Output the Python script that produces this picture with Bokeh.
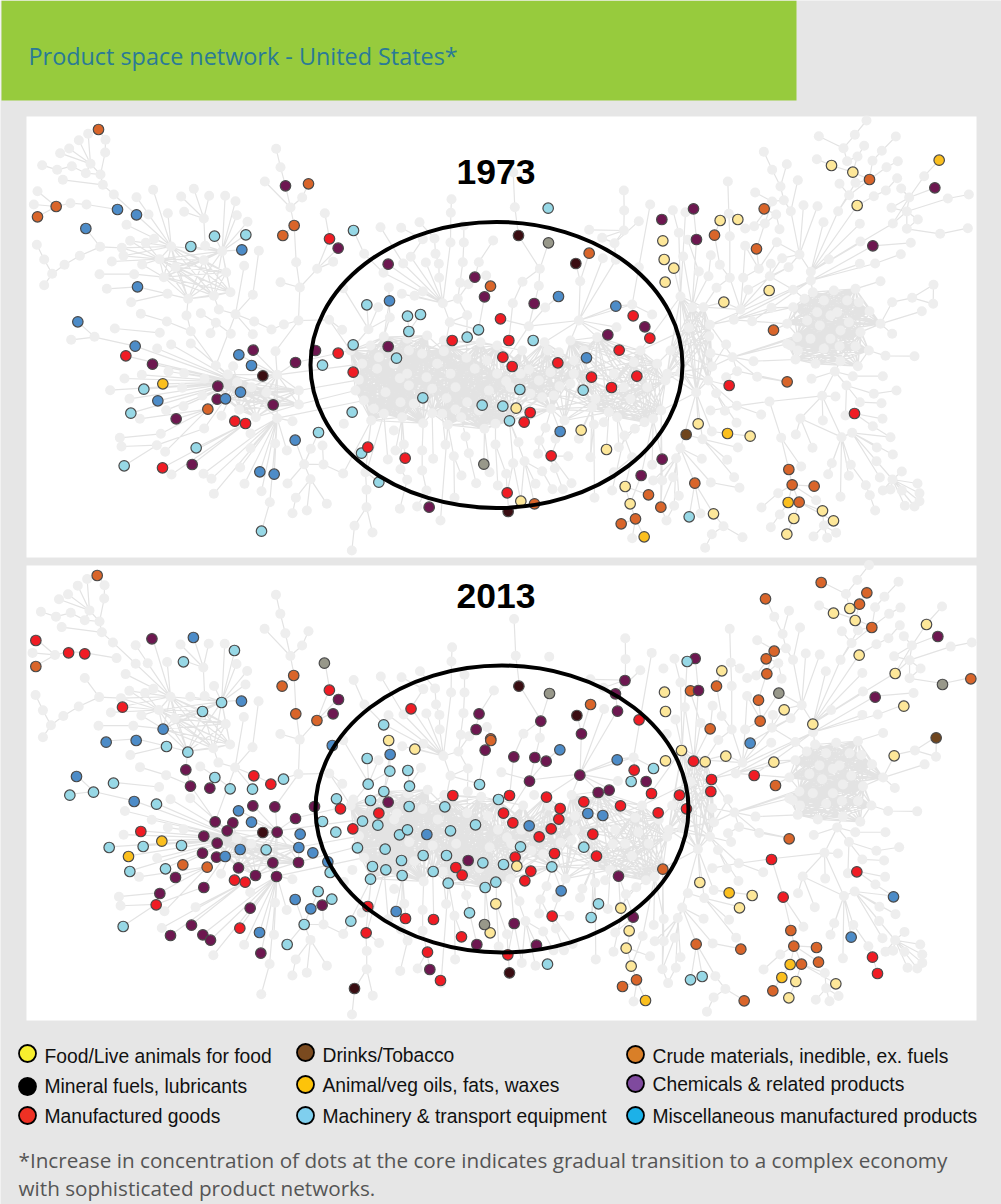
from bokeh.plotting import figure
from bokeh.models import Range1d
from bokeh.embed import file_html
from bokeh.resources import INLINE
from bokeh.core.properties import value
import math


def T(ox, oy, pts):
    return [(ox + x / 3, oy + y / 3) for x, y in pts]


def F(ox, oy, fans):
    return [(T(ox, oy, [h])[0], T(ox, oy, lv)) for h, lv in fans]


TITLE = "Product space network - United States*"
YEARS = ["1973", "2013"]
NOTE = ["*Increase in concentration of dots at the core indicates gradual transition to a complex economy",
        "with sophisticated product networks."]
LEGEND = [("Food/Live animals for food", "#f7ee2e"), ("Mineral fuels, lubricants", "#000000"), ("Manufactured goods", "#ee3124"),
          ("Drinks/Tobacco", "#7a4a1f"), ("Animal/veg oils, fats, waxes", "#fdc30a"), ("Machinery & transport equipment", "#7fcfee"),
          ("Crude materials, inedible, ex. fuels", "#d97f28"), ("Chemicals & related products", "#7f4a9e"), ("Miscellaneous manufactured products", "#1cb1e8")]

# ---- grey product network: hub -> linked products
fans = []
fans += F(20, 110, [
    ((247, 223), [(240, 192), (127, 208), (280, 252)]), ((240, 192), [(210, 160), (254, 126), (196, 188)]), ((254, 126), [(255, 88)]), ((255, 88), [(234, 57)]),
    ((210, 160), [(203, 70), (175, 89), (146, 114), (119, 128), (196, 188)]), ((196, 188), [(154, 167)]), ((154, 167), [(110, 178)]), ((110, 178), [(65, 164)]),
    ((280, 252), [(348, 313), (452, 408)]), ((51, 242), [(107, 288)]), ((40, 282), [(107, 288)]), ((51, 319), [(107, 288)]), ((107, 288), [(150, 278)]), ((150, 278), [(198, 282)]), ((198, 282), [(291, 297)]),
    ((452, 408), [(398, 238), (442, 308), (376, 397), (401, 385), (304, 412), (329, 391), (309, 436), (384, 312), (348, 260), (318, 343)]),
    ((550, 324), [(482, 258), (520, 235), (566, 256), (491, 304), (554, 406)]),
    ((605, 422), [(614, 256), (645, 272), (649, 314), (681, 334), (582, 377), (676, 373), (664, 418), (511, 408), (554, 406)]),
    ((417, 446), [(329, 391), (304, 412), (376, 397), (365, 462), (274, 453), (309, 436)]),
    ((430, 500), [(341, 491), (365, 462)]), ((341, 491), [(237, 491)]), ((441, 550), [(351, 529), (332, 575)]), ((351, 529), [(259, 535)]), ((503, 565), [(441, 550), (498, 615)]),
    ((239, 409), [(196, 354), (304, 412), (178, 436)]), ((178, 436), [(132, 463)]), ((132, 463), [(95, 490)]), ((95, 490), [(71, 447), (71, 524)]), ((71, 447), [(49, 403)]),
    ((645, 611), [(595, 597), (697, 553), (671, 466), (701, 633)]), ((697, 553), [(715, 421)]), ((701, 633), [(753, 657)]), ((753, 657), [(790, 642)]), ((790, 642), [(834, 630)]), ((595, 597), [(580, 556)]),
    ((838, 531), [(827, 455), (780, 515), (890, 475), (834, 630)]), ((827, 455), [(821, 345)]), ((890, 475), [(927, 385), (953, 413), (938, 454)]), ((927, 385), [(913, 308)]),
    ((810, 291), [(795, 226), (845, 261), (733, 213), (821, 345)]), ((780, 170), [(795, 226), (767, 115)]), ((845, 261), [(864, 220)]), ((821, 345), [(787, 375)]),
    ((361, 610), [(439, 633)]), ((439, 633), [(511, 662)]), ((541, 608), [(586, 637)]), ((586, 637), [(631, 670)]), ((511, 662), [(499, 615)]), ((283, 654), [(418, 667)]),
    ((172, 634), [(222, 679)]), ((570, 668), [(586, 637)]), ((697, 671), [(645, 611)]), ((926, 628), [(834, 630), (965, 658)]),
])
fans += F(20, 330, [
    ((650, 155), [(586, 105), (511, 39), (452, 42), (410, 54), (344, 47), (316, 76), (396, 101), (444, 123), (491, 128), (364, 133), (552, 145), (312, 144), (269, 179), (370, 176), (427, 160), (485, 172), (327, 205), (412, 211), (546, 195), (489, 227), (437, 239), (331, 248), (638, 107), (603, 256), (590, 206)]),
    ((770, 133), [(765, 62), (693, 105), (825, 96), (727, 136), (698, 59), (655, 73), (770, 263)]),
    ((222, 20), [(152, 28), (344, 47)]), ((562, 236), [(467, 265), (358, 265), (421, 310), (650, 155)]), ((421, 310), [(298, 322)]), ((409, 344), [(303, 348), (551, 294), (311, 406)]), ((551, 294), [(650, 155)]),
    ((770, 263), [(690, 309), (690, 353), (659, 411), (573, 445), (549, 430), (672, 460), (723, 482), (764, 339), (748, 515), (650, 155), (580, 490)]), ((748, 515), [(723, 602)]),
    ((675, 279), [(453, 432), (426, 412), (515, 402), (527, 352)]), ((434, 364), [(562, 236)]),
    ((851, 401), [(824, 329), (909, 402), (870, 446), (801, 459), (894, 306), (871, 355)]), ((870, 446), [(826, 502), (919, 520), (859, 540)]), ((826, 502), [(816, 548)]), ((909, 402), [(968, 429), (906, 345)]), ((799, 360), [(770, 263)]), ((816, 272), [(770, 263)]),
    ((718, 424), [(770, 263)]), ((761, 431), [(770, 263)]),
])
fans += F(340, 110, [
    ((307, 578), [(143, 461), (129, 487), (184, 550), (222, 556), (247, 543), (211, 439), (188, 459), (256, 456), (296, 502), (352, 565), (328, 635)]),
    ((296, 502), [(295, 460)]), ((295, 460), [(285, 430)]), ((285, 430), [(282, 384)]), ((282, 384), [(237, 335)]), ((247, 386), [(182, 352), (211, 439)]), ((188, 459), [(120, 350)]),
    ((129, 487), [(71, 430)]), ((71, 430), [(39, 360)]), ((333, 266), [(331, 307)]), ((331, 307), [(330, 396)]), ((330, 396), [(307, 578)]),
    ((370, 345), [(370, 396)]), ((370, 396), [(367, 455)]), ((367, 455), [(352, 565)]), ((458, 390), [(415, 455)]), ((415, 455), [(403, 500)]), ((403, 500), [(384, 521)]), ((384, 521), [(352, 565)]), ((359, 517), [(352, 565)]),
    ((437, 495), [(450, 527)]), ((450, 527), [(432, 559)]), ((432, 559), [(414, 658)]), ((352, 565), [(380, 614)]), ((380, 614), [(328, 635)]), ((328, 635), [(414, 658)]),
    ((518, 185), [(523, 290)]), ((523, 290), [(534, 375)]), ((534, 375), [(598, 475)]), ((624, 397), [(598, 475)]), ((598, 475), [(546, 514), (595, 526)]), ((546, 514), [(517, 578)]),
    ((565, 647), [(614, 591), (581, 579), (595, 526), (480, 625)]), ((614, 591), [(654, 558)]),
    ((715, 630), [(719, 512), (787, 443), (826, 587), (875, 582), (826, 448), (565, 647), (828, 650), (802, 673)]), ((719, 512), [(706, 459), (746, 428)]),
    ((850, 240), [(851, 300)]), ((851, 300), [(850, 360)]), ((850, 360), [(785, 382), (822, 398), (746, 358)]), ((785, 382), [(822, 398)]), ((822, 398), [(826, 448), (895, 332)]),
    ((929, 282), [(895, 470)]), ((895, 470), [(875, 582)]), ((875, 582), [(935, 612), (878, 616), (826, 587)]),
    ((84, 656), [(113, 590), (148, 621), (79, 583)]), ((130, 678), [(147, 571), (148, 621)]), ((205, 663), [(201, 617), (240, 612)]), ((8, 533), [(84, 656)]), ((145, 531), [(148, 621)]),
])
fans += F(340, 330, [
    ((92, 270), [(75, 425), (8, 430)]), ((130, 250), [(78, 425), (142, 387)]), ((75, 425), [(78, 478)]), ((78, 478), [(78, 530)]), ((78, 530), [(42, 586), (96, 606)]), ((42, 586), [(34, 660)]),
    ((185, 260), [(165, 360), (190, 342), (180, 416)]), ((180, 416), [(200, 448)]), ((200, 448), [(178, 535)]), ((248, 278), [(245, 360)]), ((245, 360), [(245, 420)]), ((245, 420), [(258, 480)]), ((258, 480), [(266, 530), (230, 528)]),
    ((275, 248), [(278, 385)]), ((305, 250), [(315, 343)]), ((322, 283), [(340, 377), (300, 570)]), ((340, 377), [(363, 435), (342, 502)]), ((362, 260), [(375, 318)]), ((375, 318), [(385, 368)]), ((385, 368), [(407, 458)]),
    ((432, 295), [(430, 401), (447, 425)]), ((465, 280), [(465, 342)]), ((465, 342), [(497, 430), (472, 465)]), ((497, 430), [(500, 487)]), ((500, 487), [(505, 543)]),
    ((507, 271), [(534, 335), (518, 398), (552, 392)]), ((552, 392), [(585, 460), (541, 512), (582, 520), (605, 422)]), ((518, 398), [(500, 487), (541, 512)]), ((605, 422), [(636, 476)]), ((643, 413), [(667, 476), (597, 330)]),
    ((632, 376), [(683, 377), (693, 458)]), ((597, 330), [(593, 370)]), ((672, 270), [(645, 325), (632, 376)]), ((615, 292), [(597, 330)]), ((632, 235), [(615, 292), (672, 270), (659, 303), (569, 246), (551, 275)]),
    ((755, 230), [(760, 282), (722, 299), (715, 325), (750, 380)]), ((760, 282), [(750, 380), (762, 502)]), ((805, 245), [(798, 357), (790, 275)]), ((830, 260), [(875, 380), (835, 350)]), ((875, 380), [(854, 468), (820, 425)]),
    ((912, 275), [(883, 295)]), ((883, 295), [(852, 315), (835, 350)]), ((852, 315), [(815, 480)]), ((938, 265), [(902, 435), (935, 403), (965, 386)]), ((902, 435), [(869, 520)]), ((854, 468), [(869, 520), (924, 493)]), ((869, 520), [(885, 565)]),
    ((885, 565), [(842, 580), (875, 623), (911, 619)]), ((962, 240), [(965, 450), (961, 530)]), ((965, 450), [(961, 530), (938, 450)]), ((961, 530), [(978, 570)]), ((82, 350), [(92, 270)]), ((194, 383), [(185, 260)]), ((115, 455), [(78, 425)]),
])
fans += F(660, 110, [
    ((618, 30), [(583, 73)]), ((583, 73), [(549, 113)]), ((475, 77), [(549, 113)]), ((549, 113), [(560, 152)]), ((706, 78), [(664, 121)]), ((664, 121), [(636, 151)]), ((611, 106), [(591, 138)]), ((591, 138), [(577, 185), (560, 152)]),
    ((469, 146), [(513, 165)]), ((513, 165), [(577, 185)]), ((577, 185), [(627, 207)]), ((712, 152), [(678, 170)]), ((678, 170), [(627, 207)]), ((636, 151), [(627, 207)]), ((627, 207), [(585, 217), (566, 254)]), ((537, 220), [(566, 254)]), ((585, 217), [(533, 302)]), ((566, 254), [(533, 302)]), ((640, 257), [(676, 240)]), ((676, 240), [(710, 203)]), ((640, 257), [(590, 285)]),
    ((836, 149), [(791, 197)]), ((791, 197), [(746, 261)]), ((746, 261), [(722, 234), (823, 232), (693, 292), (739, 303), (697, 339)]), ((925, 252), [(862, 264)]), ((862, 264), [(739, 303)]), ((739, 303), [(772, 327), (739, 355), (693, 292), (697, 339)]), ((922, 353), [(839, 370)]), ((839, 370), [(739, 355)]), ((772, 327), [(739, 355)]),
    ((697, 339), [(451, 484)]), ((451, 484), [(533, 302), (590, 285), (489, 335), (600, 393), (505, 446), (417, 432), (598, 340)]), ((637, 406), [(751, 397), (451, 510)]), ((721, 431), [(644, 459)]), ((644, 459), [(451, 510)]), ((598, 460), [(451, 510)]), ((660, 512), [(585, 535)]),
    ((417, 432), [(391, 302), (429, 284), (471, 287), (349, 395), (365, 443), (384, 470)]), ((391, 302), [(370, 269), (412, 209)]), ((370, 269), [(360, 228), (335, 273)]), ((360, 228), [(335, 178), (379, 161)]), ((335, 178), [(310, 124)]), ((284, 246), [(335, 273)]), ((335, 273), [(281, 347), (313, 339)]), ((347, 312), [(311, 295), (313, 339)]), ((357, 356), [(347, 312)]),
    ((313, 339), [(254, 354), (288, 415)]), ((288, 415), [(295, 475)]), ((254, 406), [(295, 475)]), ((349, 395), [(295, 475)]), ((365, 443), [(328, 497)]), ((331, 460), [(328, 497)]), ((384, 470), [(328, 497), (263, 538)]),
    ((208, 377), [(208, 502)]), ((205, 310), [(208, 377), (202, 213)]), ((179, 330), [(162, 374)]), ((232, 327), [(205, 310)]), ((162, 374), [(178, 463)]), ((178, 463), [(208, 502)]), ((151, 434), [(144, 497)]), ((99, 295), [(108, 387)]), ((108, 387), [(95, 590)]), ((82, 388), [(115, 483)]), ((68, 438), [(95, 590)]),
    ((248, 502), [(240, 597), (295, 475), (254, 406)]), ((208, 502), [(240, 597), (168, 532)]), ((263, 538), [(240, 597)]), ((328, 497), [(240, 597), (398, 538)]), ((398, 538), [(451, 510), (220, 628)]), ((326, 540), [(240, 597)]), ((168, 532), [(129, 590)]), ((190, 575), [(129, 590), (240, 597)]), ((240, 597), [(220, 628), (129, 590)]),
    ((333, 592), [(220, 628), (398, 590), (275, 632)]), ((451, 510), [(220, 628), (275, 632), (148, 643), (457, 545)]), ((695, 575), [(660, 640), (755, 562)]), ((755, 562), [(819, 523), (818, 580)]), ((819, 523), [(818, 580)]), ((784, 602), [(660, 640)]), ((695, 670), [(660, 640)]),
    ((37, 299), [(55, 367)]), ((75, 305), [(60, 558)]), ((55, 367), [(60, 558)]), ((40, 473), [(60, 558)]), ((115, 483), [(95, 590)]), ((144, 497), [(95, 590)]), ((339, 659), [(380, 640)]),
])
fans += F(660, 330, [
    ((625, 60), [(675, 76)]), ((675, 76), [(762, 77)]), ((523, 123), [(577, 137), (558, 165), (485, 196), (540, 92), (453, 145)]), ((577, 137), [(667, 137)]), ((558, 165), [(598, 215), (640, 190), (555, 255)]), ((640, 190), [(708, 180)]), ((598, 215), [(663, 218)]),
    ((485, 196), [(327, 213), (420, 264), (487, 270), (525, 198), (543, 320)]), ((327, 213), [(229, 226), (362, 322)]), ((229, 226), [(302, 252), (150, 240)]), ((420, 264), [(543, 320), (406, 312), (456, 352)]), ((362, 322), [(385, 417), (422, 408)]), ((385, 417), [(395, 463)]),
    ((543, 320), [(514, 398), (503, 431), (540, 499), (571, 403), (565, 436), (575, 307)]), ((575, 307), [(690, 320), (649, 351), (648, 392), (697, 372), (658, 441), (696, 447)]), ((571, 403), [(616, 464)]), ((616, 464), [(628, 494)]), ((628, 494), [(644, 540)]),
    ((696, 447), [(724, 423), (771, 459), (667, 480), (690, 477), (724, 480), (777, 488), (733, 526), (762, 528), (777, 512)]), ((582, 249), [(666, 265), (637, 287), (555, 255)]), ((637, 287), [(690, 320)]),
    ((395, 463), [(353, 488), (416, 515), (383, 516), (461, 467), (467, 509)]), ((353, 488), [(303, 531)]), ((416, 515), [(486, 541), (519, 571)]), ((383, 516), [(358, 552)]), ((358, 552), [(331, 590)]), ((400, 564), [(379, 611), (416, 515)]), ((490, 585), [(459, 618), (500, 622), (527, 607), (486, 541)]),
    ((103, 458), [(120, 549), (159, 550), (86, 559), (60, 353)]), ((60, 353), [(47, 383), (124, 385), (38, 440), (151, 456), (107, 186)]), ((151, 456), [(237, 472)]), ((126, 326), [(221, 440), (200, 388), (77, 312)]), ((189, 587), [(159, 550), (154, 611), (246, 620)]), ((154, 611), [(134, 652)]),
    ((216, 80), [(279, 92), (230, 122), (290, 139), (380, 40), (410, 20), (155, 108), (150, 68)]), ((279, 92), [(405, 87)]), ((230, 122), [(380, 154), (197, 140)]), ((290, 139), [(380, 154)]), ((107, 186), [(113, 280), (154, 303), (126, 326)]), ((167, 188), [(228, 277), (193, 241), (143, 150)]), ((143, 150), [(206, 165), (229, 226)]), ((154, 303), [(201, 309)]), ((201, 309), [(269, 317)]), ((232, 351), [(126, 326)]), ((6, 452), [(47, 383)]), ((18, 568), [(41, 526)]), ((41, 526), [(47, 383)]), ((55, 496), [(47, 383)]),
    ((155, 108), [(197, 42)]),
])

# clusters in which every product links to every other
meshes = [
    T(20, 110, [(452, 408), (417, 446), (465, 470), (430, 500), (550, 449), (605, 422), (617, 486), (580, 556), (503, 565), (630, 545)]),
    T(20, 330, [(622, 132), (693, 170), (738, 186), (656, 238), (706, 260), (650, 155), (660, 185), (592, 167), (615, 205), (770, 133), (758, 223), (835, 180), (835, 222)]),
    T(340, 330, [(130, 20), (200, 25), (260, 15), (30, 60), (90, 45), (115, 80), (205, 60), (245, 70), (310, 62), (110, 115), (65, 100), (55, 148), (45, 180), (135, 185), (178, 143), (200, 130), (258, 140), (205, 165), (70, 210), (100, 235), (180, 215), (220, 220), (275, 175), (130, 250), (185, 260), (248, 278), (92, 270)]),
    T(340, 330, [(420, 35), (470, 45), (310, 30), (378, 82), (403, 115), (330, 130), (258, 140), (345, 170), (318, 203), (380, 215), (345, 237), (275, 248), (305, 250), (322, 283), (362, 260), (415, 240), (465, 280), (432, 295), (497, 152), (445, 180), (470, 130), (275, 175), (310, 62), (245, 70), (507, 271)]),
    T(340, 330, [(205, 60), (245, 70), (258, 140), (275, 175), (220, 220), (275, 248), (248, 278), (180, 215), (310, 62), (345, 170)]),
    T(340, 330, [(545, 60), (565, 117), (470, 45), (510, 170), (415, 240), (465, 280), (570, 190), (632, 235), (605, 200), (507, 271), (497, 152), (470, 130), (595, 150), (445, 180)]),
    T(340, 330, [(565, 117), (595, 150), (630, 125), (510, 170), (570, 190), (605, 200), (640, 195), (657, 167), (700, 130), (612, 35), (622, 60), (655, 65), (700, 90), (497, 152), (445, 180), (632, 235)]),
    T(340, 330, [(700, 130), (657, 167), (640, 195), (765, 205), (755, 230), (700, 90), (690, 30), (632, 235), (672, 270), (770, 20), (805, 245)]),
    T(340, 330, [(880, 95), (900, 60), (950, 100), (975, 150), (920, 170), (870, 205), (765, 205), (755, 230), (805, 245), (830, 260), (700, 130), (770, 20), (690, 30), (912, 275), (938, 265), (962, 240)]),
    T(660, 110, [(60, 558), (95, 590), (129, 590), (85, 652), (148, 643)]) + T(660, 330, [(146, 17), (155, 108), (143, 150), (107, 186), (30, 60), (60, 125), (20, 130)]),
    T(660, 110, [(457, 545), (520, 540), (585, 535), (490, 570), (560, 570), (432, 565), (595, 575), (627, 602), (470, 605), (565, 635), (510, 615), (478, 645), (530, 605), (600, 665), (410, 675), (398, 590), (380, 640), (660, 640), (540, 660), (440, 630)]),
    T(660, 330, [(390, 45), (412, 60), (405, 87), (450, 25), (510, 25), (490, 55), (465, 100), (537, 47), (585, 47), (625, 60), (540, 92), (592, 107), (603, 5), (380, 40), (410, 20), (540, 5)]) + T(660, 110, [(600, 665), (410, 675), (540, 660), (478, 645), (565, 635)]),
]

links = [
    (T(340, 110, [(380, 614)])[0], T(340, 330, [(378, 82)])[0]), (T(340, 110, [(328, 635)])[0], T(340, 330, [(310, 62)])[0]), (T(340, 110, [(517, 578)])[0], T(340, 330, [(505, 30)])[0]),
    (T(340, 110, [(565, 647)])[0], T(340, 330, [(470, 130)])[0]), (T(340, 110, [(715, 630)])[0], T(340, 330, [(690, 30)])[0]), (T(340, 110, [(715, 630)])[0], T(340, 330, [(770, 20)])[0]), (T(340, 110, [(715, 630)])[0], T(340, 330, [(612, 35)])[0]),
    (T(340, 110, [(84, 656)])[0], T(340, 330, [(30, 60)])[0]), (T(340, 110, [(130, 678)])[0], T(340, 330, [(90, 45)])[0]), (T(340, 110, [(205, 663)])[0], T(340, 330, [(205, 60)])[0]),
    (T(20, 330, [(835, 222)])[0], T(340, 330, [(45, 180)])[0]), (T(20, 330, [(835, 180)])[0], T(340, 330, [(55, 148)])[0]), (T(20, 330, [(825, 96)])[0], T(340, 330, [(30, 60)])[0]),
    (T(20, 330, [(770, 133)])[0], T(340, 330, [(65, 100)])[0]), (T(20, 330, [(770, 263)])[0], T(340, 330, [(70, 210)])[0]), (T(20, 110, [(834, 630)])[0], T(20, 330, [(765, 62)])[0]), (T(20, 110, [(511, 662)])[0], T(20, 330, [(586, 105)])[0]), (T(20, 110, [(645, 611)])[0], T(20, 330, [(586, 105)])[0]),
    (T(20, 110, [(926, 628)])[0], T(340, 330, [(30, 60)])[0]), (T(340, 330, [(975, 150)])[0], T(660, 330, [(60, 125)])[0]), (T(340, 330, [(962, 240)])[0], T(660, 330, [(107, 186)])[0]), (T(340, 330, [(950, 100)])[0], T(660, 330, [(30, 60)])[0]),
    (T(660, 110, [(220, 628)])[0], T(660, 110, [(380, 640)])[0]), (T(660, 330, [(216, 80)])[0], T(660, 110, [(410, 675)])[0]), (T(660, 110, [(148, 643)])[0], T(660, 110, [(398, 590)])[0]), (T(660, 110, [(275, 632)])[0], T(660, 110, [(380, 640)])[0]),
    (T(660, 110, [(398, 538)])[0], T(660, 110, [(432, 565)])[0]), (T(340, 330, [(938, 450)])[0], T(660, 330, [(47, 383)])[0]), (T(340, 330, [(965, 450)])[0], T(660, 330, [(47, 383)])[0]), (T(340, 330, [(961, 530)])[0], T(660, 330, [(38, 440)])[0]),
    (T(660, 330, [(151, 456)])[0], T(660, 330, [(60, 353)])[0]), (T(340, 330, [(900, 60)])[0], T(660, 110, [(60, 558)])[0]), (T(340, 330, [(900, 60)])[0], T(660, 110, [(85, 652)])[0]),
    (T(660, 110, [(220, 628)])[0], T(660, 110, [(148, 643)])[0]), (T(660, 330, [(216, 80)])[0], T(660, 110, [(148, 643)])[0]),
]

# ---- coloured products, 1973
crude_1973 = T(20, 110, [(234, 57), (107, 288), (51, 319), (864, 220), (821, 345), (787, 375)]) + T(20, 330, [(562, 236)]) + T(340, 110, [(450, 527), (746, 428)]) + T(340, 330, [(582, 520), (924, 493), (961, 530), (885, 565), (842, 580)]) + T(660, 110, [(311, 295), (162, 374), (288, 415), (627, 207), (339, 659)]) + T(660, 330, [(380, 154), (103, 458), (385, 417), (395, 463), (461, 467), (416, 515)])
chem_1973 = T(20, 110, [(795, 226), (953, 413)]) + T(20, 330, [(396, 101), (698, 59), (825, 96), (592, 167), (590, 206), (758, 223), (467, 265), (515, 402), (885, 60)]) + T(340, 110, [(143, 461), (403, 500), (432, 559), (581, 579), (964, 327), (913, 649)]) + T(340, 330, [(143, 48), (802, 13), (266, 530), (965, 386), (902, 435)]) + T(660, 110, [(99, 295), (108, 387), (823, 232), (637, 406)])
misc_1973 = T(20, 110, [(291, 297), (348, 313), (196, 354), (664, 418), (351, 529), (172, 634)]) + T(20, 330, [(344, 47), (655, 73), (693, 105), (412, 211), (615, 205), (660, 185), (824, 329), (718, 424), (761, 431)]) + T(340, 110, [(147, 571), (654, 558), (826, 587)]) + T(340, 330, [(738, 82), (659, 303)])
mach_1973 = T(20, 110, [(582, 377), (676, 373), (511, 408)]) + T(20, 330, [(370, 176), (331, 248), (527, 352), (311, 406), (906, 104), (894, 306), (723, 602)]) + T(340, 110, [(39, 360), (623, 293), (79, 583), (201, 617), (240, 612), (205, 663), (414, 658)]) + T(340, 330, [(38, 43), (168, 83), (380, 20), (578, 30), (538, 177), (728, 179), (247, 202), (425, 224), (487, 227), (507, 271), (35, 245), (63, 368), (115, 455)]) + T(660, 330, [(86, 559)])
mfg_1973 = T(20, 110, [(927, 385)]) + T(20, 330, [(316, 76), (643, 272), (675, 279), (426, 412), (953, 68)]) + T(340, 110, [(480, 625), (878, 616)]) + T(340, 330, [(335, 30), (505, 30), (487, 80), (515, 108), (652, 97), (836, 59), (928, 23), (753, 140), (813, 171), (889, 137), (38, 125), (569, 246), (551, 275), (82, 350), (194, 383), (632, 376), (500, 487)]) + T(660, 330, [(206, 165), (582, 249)])
food_1973 = T(340, 110, [(967, 391), (971, 447), (974, 515)]) + T(340, 330, [(527, 233), (722, 299), (798, 357), (541, 512), (854, 468), (869, 520)]) + T(660, 110, [(179, 330), (232, 327), (513, 165), (577, 185), (590, 285), (326, 540), (190, 575), (40, 473)]) + T(660, 330, [(113, 280), (269, 317), (159, 550), (486, 541), (519, 571), (400, 564), (379, 611)])
oils_1973 = T(20, 330, [(427, 160)]) + T(340, 330, [(911, 619)]) + T(660, 110, [(836, 149)]) + T(660, 330, [(201, 309), (383, 516)])
fuel_1973 = T(20, 330, [(727, 136)]) + T(340, 110, [(534, 375), (706, 459)]) + T(340, 330, [(503, 543)])
other_1973 = T(340, 110, [(624, 397)]) + T(340, 330, [(430, 401)])
drinks_1973 = T(660, 330, [(77, 312)])


def W(pts):  # crop of the 2013 top strip, shown 2.412x wide and 3x high
    return [(20 + x / 2.412, 565 + y / 3) for x, y in pts]


# ---- coloured products, 2013
crude_2013 = W([(185, 30), (37, 303), (659, 330), (631, 362), (664, 445), (715, 465), (1134, 520), (1375, 417)]) + T(20, 740, [(487, 373), (560, 380)]) + T(340, 740, [(451, 0), (888, 718)]) + T(660, 565, [(482, 51), (619, 82), (597, 116), (315, 100), (634, 186), (341, 257), (317, 280), (319, 325), (90, 376), (168, 362), (294, 404), (299, 467), (149, 490), (345, 660), (386, 820), (7, 911), (931, 340), (391, 1095), (400, 1142), (468, 1146), (423, 1196), (474, 1190), (337, 1276), (107, 1136), (241, 1151), (251, 1306)]) + [(622, 986)]
chem_2013 = W([(317, 220), (767, 402), (754, 445), (1106, 445), (1099, 492), (1255, 467), (1458, 345), (1435, 385), (1440, 437), (1353, 505)]) + T(20, 740, [(496, 88), (510, 137), (568, 143), (697, 196), (763, 199), (882, 198), (825, 234), (584, 244), (637, 247), (620, 271), (770, 275), (550, 287), (590, 308), (546, 338), (588, 350), (757, 367), (834, 366), (654, 382), (705, 405), (768, 408), (465, 411), (418, 459), (550, 441), (689, 503), (905, 494), (513, 554), (450, 585), (547, 583), (570, 599), (721, 638)]) + T(340, 740, [(143, 185), (434, 29), (520, 49), (583, 51), (617, 62), (567, 122), (718, 104), (773, 156), (806, 149), (917, 123), (383, 360), (521, 549), (409, 612), (588, 614), (268, 687), (834, 407), (878, 530)]) + T(660, 565, [(104, 279), (114, 375), (832, 213), (644, 395)])
misc_2013 = W([(417, 216), (533, 407), (344, 491), (752, 540)]) + T(20, 740, [(257, 5), (347, 0), (168, 108), (341, 183), (654, 211), (693, 245), (839, 281), (835, 321), (877, 337), (659, 327), (614, 348), (922, 364), (824, 477), (871, 505), (717, 576)]) + T(340, 740, [(149, 42), (658, 28), (830, 58), (259, 282), (566, 256), (742, 219), (787, 225), (662, 451), (167, 513)]) + T(660, 565, [(269, 533), (699, 994), (572, 1115)])
mach_2013 = W([(516, 255), (393, 289), (485, 411), (439, 438), (876, 478)]) + T(20, 740, [(438, 18), (502, 35), (279, 128), (148, 164), (219, 155), (583, 111), (789, 116), (629, 145), (696, 146), (408, 191), (948, 175), (906, 243), (946, 275), (266, 321), (368, 318), (483, 315), (737, 328), (328, 393), (435, 385), (929, 396), (893, 453), (934, 476), (851, 552), (308, 558), (800, 612)]) + T(340, 740, [(80, 54), (148, 92), (202, 90), (83, 131), (207, 137), (130, 153), (90, 180), (206, 198), (313, 199), (417, 132), (474, 177), (66, 242), (112, 254), (177, 283), (201, 268), (330, 271), (405, 253), (51, 322), (134, 326), (183, 360), (248, 345), (318, 345), (96, 378), (136, 388), (185, 405), (90, 416), (278, 393), (323, 428), (427, 367), (489, 372), (540, 319), (634, 379), (466, 425), (434, 441), (730, 320), (774, 490), (752, 531), (387, 517), (31, 542), (621, 671), (872, 123), (939, 84)]) + T(660, 565, [(80, 288), (90, 1243), (125, 1233)])
mfg_2013 = W([(37, 225), (116, 262), (155, 265), (745, 374), (246, 425), (942, 430), (1492, 463)]) + T(20, 740, [(700, 106), (751, 131), (361, 273), (642, 419), (674, 425), (407, 493), (658, 563)]) + T(340, 740, [(337, 165), (507, 165), (618, 170), (881, 89), (730, 184), (933, 159), (840, 196), (659, 204), (115, 218), (489, 218), (517, 247), (655, 236), (632, 265), (596, 289), (37, 265), (953, 217), (757, 281), (642, 339), (768, 347), (524, 350), (346, 381), (365, 404), (571, 392), (553, 421), (82, 498), (195, 534), (279, 537), (635, 527), (77, 577), (363, 589), (261, 635), (502, 643), (300, 720), (0, 205)]) + T(660, 565, [(99, 587), (153, 642), (151, 678), (57, 689), (78, 730), (281, 630), (333, 882), (589, 919), (368, 995), (636, 1175), (651, 1224)])
food_2013 = W([(888, 525)]) + T(340, 740, [(223, 26), (529, 377), (466, 490), (449, 577), (841, 503), (866, 571), (857, 623), (872, 677)]) + T(660, 565, [(519, 143), (568, 129), (584, 165), (798, 177), (596, 269), (704, 324), (184, 316), (12, 380), (15, 438), (371, 433), (457, 476), (63, 555), (15, 586), (134, 589), (196, 572), (340, 590), (701, 571), (730, 422), (118, 951), (275, 990), (237, 1027), (406, 1248), (385, 1297), (526, 1255)])
oils_2013 = T(20, 740, [(424, 302), (324, 348)]) + T(660, 565, [(206, 982), (389, 1197), (364, 1236)]) + [(645, 1000)]
fuel_2013 = W([(1202, 362), (1342, 450)]) + T(20, 740, [(727, 276)]) + T(340, 740, [(507, 697)]) + [(354, 988)]
other_2013 = W([(733, 293), (1276, 384)]) + T(340, 740, [(432, 552)]) + T(660, 565, [(355, 383), (846, 357)])
drinks_2013 = T(660, 565, [(827, 517)])

DOTS = [("#d9652a", crude_1973, crude_2013), ("#6d1750", chem_1973, chem_2013), ("#4d8cc8", misc_1973, misc_2013),
        ("#97d8e6", mach_1973, mach_2013), ("#f01c24", mfg_1973, mfg_2013), ("#fde799", food_1973, food_2013),
        ("#fbbf1e", oils_1973, oils_2013), ("#3a0d12", fuel_1973, fuel_2013), ("#98988a", other_1973, other_2013),
        ("#6f451e", drinks_1973, drinks_2013)]

# ---- assemble the network
edges, nodes = [], []
for hub, leaves in fans:
    nodes.append(hub)
    for leaf in leaves:
        nodes.append(leaf)
        edges.append((hub, leaf))
for m in meshes:
    nodes += m
    for i, a in enumerate(m):
        for b in m[i + 1:]:
            edges.append((a, b))
edges += links
for _, y73, _y13 in DOTS:
    nodes += y73
nodes += T(20, 330, [(269, 179)]) + T(340, 330, [(160, 100), (290, 100), (440, 90), (540, 130), (160, 300), (10, 280), (690, 160), (820, 130), (850, 170), (730, 60)])

uniq = []
for n in nodes:
    if all(abs(n[0] - u[0]) > 2.5 or abs(n[1] - u[1]) > 2.5 for u in uniq):
        uniq.append(n)


def to_2013(pt):
    return (97 + 1.0046 * (pt[0] - 98), 574 + 1.045 * (pt[1] - 129))


p = figure(width=1001, height=1204, x_range=Range1d(0, 1001), y_range=Range1d(1204, 0), toolbar_location=None,
           output_backend="svg", min_border=0, background_fill_color="#e6e6e6", border_fill_color="#e6e6e6", outline_line_color=None)
p.styles = {"position": "absolute", "left": "0px", "top": "0px"}
p.axis.visible = False
p.grid.visible = False

p.quad(left=[1], right=[796], top=[0], bottom=[100], fill_color="#97cb3d", line_color=None)
p.quad(left=[26, 26], right=[976, 976], top=[116, 565], bottom=[557, 1020], fill_color="#ffffff", line_color=None)
p.text(x=[28], y=[55], text=[TITLE], text_font=value("Open Sans"), text_font_size="23.4px", text_color="#2a7a96", text_baseline="middle")

for k, conv in enumerate([lambda q: q, to_2013]):
    ex, ey = [], []
    for a, b in edges:
        a2, b2 = conv(a), conv(b)
        ex += [a2[0], b2[0], math.nan]
        ey += [a2[1], b2[1], math.nan]
    p.line(ex, ey, line_color="#e3e3e3", line_width=1.2)
    pts = [conv(u) for u in uniq]
    p.scatter([q[0] for q in pts], [q[1] for q in pts], size=10, marker="circle", fill_color="#eeeeee", line_color=None)

for color, y73, y13 in DOTS:
    for pts in (y73, y13):
        p.scatter([q[0] for q in pts], [q[1] for q in pts], size=10.5, marker="circle", fill_color=color, line_color="#4a4a4a", line_width=1.2)

p.ellipse(x=[496, 501.5], y=[364.5, 808.5], width=[372, 373], height=[286, 287], fill_color=None, line_color="#000000", line_width=4)
for yr, yy in zip(YEARS, [171, 595]):
    p.text(x=[495.5], y=[yy], text=[yr], text_font=value("Liberation Sans"), text_font_style="bold", text_font_size="35.5px",
           text_color="#000000", text_align="center", text_baseline="middle")

lx = [27, 27, 27, 305, 305, 305, 635, 635, 635]
ly = [1053, 1086, 1115, 1052, 1084, 1115, 1054, 1083, 1115]
ty = [1056, 1086, 1116, 1055, 1085, 1116, 1056, 1084, 1116]
for (lab, col), x0, y0, y1 in zip(LEGEND, lx, ly, ty):
    p.scatter([x0], [y0], size=17, marker="circle", fill_color=col, line_color="#000000", line_width=1.8)
    p.text(x=[x0 + 17], y=[y1], text=[lab], text_font=value("Liberation Sans"), text_font_size="19.3px", text_color="#111111", text_baseline="middle")

for line, yy in zip(NOTE, [1159, 1187]):
    p.text(x=[18], y=[yy], text=[line], text_font=value("Open Sans"), text_font_size="20.7px", text_color="#555555", text_baseline="middle")

open("out.html", "w").write(file_html(p, INLINE))
